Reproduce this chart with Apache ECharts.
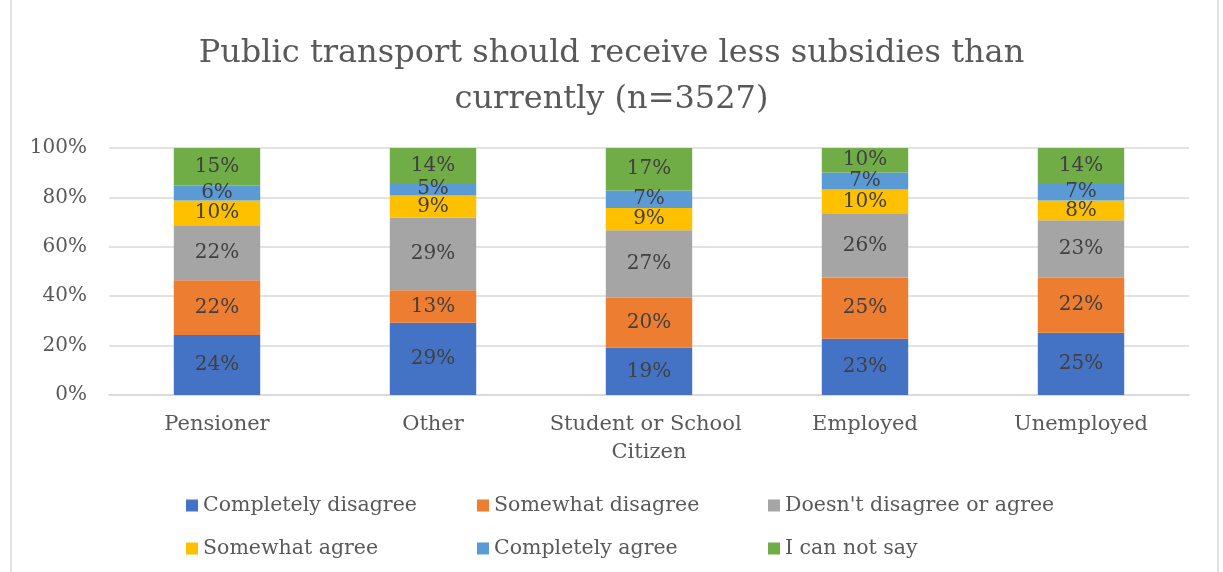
<!DOCTYPE html>
<html>
<head>
<meta charset="utf-8">
<script src="https://cdn.jsdelivr.net/npm/echarts@6/dist/echarts.min.js"></script>
<style>html,body{margin:0;padding:0;background:#fff}#c{width:1223px;height:572px}</style>
</head>
<body>
<div id="c"></div>
<script>
const categories = ['Pensioner', 'Other', 'Student or School Citizen', 'Employed', 'Unemployed'];
const seriesNames = ['Completely disagree', 'Somewhat disagree', "Doesn't disagree or agree", 'Somewhat agree', 'Completely agree', 'I can not say'];
const completelyDisagree = [24, 29, 19, 23, 25];
const somewhatDisagree = [22, 13, 20, 25, 22];
const neutral = [22, 29, 27, 26, 23];
const somewhatAgree = [10, 9, 9, 10, 8];
const completelyAgree = [6, 5, 7, 7, 7];
const cannotSay = [15, 14, 17, 10, 14];
const yTicks = [0, 20, 40, 60, 80, 100];

const colors = ['#4472C4', '#ED7D31', '#A5A5A5', '#FFC000', '#5B9BD5', '#70AD47'];
const raw = [completelyDisagree, somewhatDisagree, neutral, somewhatAgree, completelyAgree, cannotSay];
const totals = categories.map((_, i) => raw.reduce((s, a) => s + a[i], 0));
const FONT = 'DejaVu Serif';

const series = raw.map((arr, k) => ({
  name: seriesNames[k],
  type: 'bar',
  stack: 'all',
  barWidth: '40%',
  itemStyle: { color: colors[k] },
  data: arr.map((v, i) => v / totals[i] * 100),
  label: {
    show: true,
    position: 'inside',
    formatter: p => arr[p.dataIndex] + '%',
    color: '#404040',
    fontFamily: FONT,
    fontSize: 20
  }
}));

const legendPos = [[181, 490], [472, 490], [763, 490], [181, 533], [472, 533], [763, 533]];
const legends = seriesNames.map((n, k) => ({
  data: [n],
  left: legendPos[k][0],
  top: legendPos[k][1],
  icon: 'rect',
  itemWidth: 12,
  itemHeight: 12,
  itemGap: 0,
  selectedMode: false,
  textStyle: { color: '#595959', fontFamily: FONT, fontSize: 20.5 }
}));

const chart = echarts.init(document.getElementById('c'));
chart.setOption({
  animation: false,
  title: {
    text: 'Public transport should receive less subsidies than\ncurrently (n=3527)',
    left: 'center',
    top: 26,
    textStyle: { color: '#595959', fontFamily: FONT, fontSize: 32, fontWeight: 'normal', lineHeight: 46 }
  },
  legend: legends,
  grid: { left: 109, right: 34, top: 148, bottom: 177, containLabel: false },
  xAxis: {
    type: 'category',
    data: categories,
    axisLine: { show: true, lineStyle: { color: '#d9d9d9', width: 1.5 } },
    axisTick: { show: false },
    axisLabel: {
      color: '#595959', fontFamily: FONT, fontSize: 21, margin: 16,
      width: 205, overflow: 'break', lineHeight: 28, interval: 0
    }
  },
  yAxis: {
    type: 'value',
    min: yTicks[0],
    max: yTicks[yTicks.length - 1],
    interval: yTicks[1] - yTicks[0],
    axisLine: { show: false },
    axisTick: { show: false },
    splitLine: { lineStyle: { color: '#d9d9d9', width: 1.5 } },
    axisLabel: { formatter: '{value}%', color: '#595959', fontFamily: FONT, fontSize: 20, margin: 22 }
  },
  graphic: [{
    type: 'rect',
    shape: { x: 11, y: -2, width: 1207, height: 580 },
    style: { fill: 'none', stroke: '#d9d9d9', lineWidth: 1.5 },
    silent: true
  }],
  series: series
});
</script>
</body>
</html>
